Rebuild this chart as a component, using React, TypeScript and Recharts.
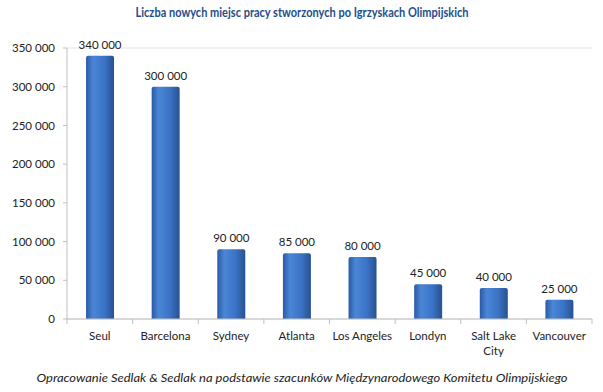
import React from 'react'
import { BarChart, Bar, XAxis, YAxis, CartesianGrid, LabelList } from 'recharts'

const cities = ['Seul', 'Barcelona', 'Sydney', 'Atlanta', 'Los Angeles', 'Londyn', 'Salt Lake City', 'Vancouver']
const jobs = [340000, 300000, 90000, 85000, 80000, 45000, 40000, 25000]
const yTicks = [0, 50000, 100000, 150000, 200000, 250000, 300000, 350000]

const title = 'Liczba nowych miejsc pracy stworzonych po Igrzyskach Olimpijskich'
const source = 'Opracowanie Sedlak & Sedlak na podstawie szacunków Międzynarodowego Komitetu Olimpijskiego'

const data = cities.map((city, i) => ({ city, jobs: jobs[i] }))

const W = 603
const H = 392
const FONT = 'Lato, "Noto Sans", sans-serif'
const BAND = (592 - 67) / cities.length

const fmt = (v: number) => String(v).replace(/\B(?=(\d{3})+(?!\d))/g, ' ')

function splitLabel(s: string) {
  if (s.length <= 12) return [s]
  const i = s.lastIndexOf(' ')
  return [s.slice(0, i), s.slice(i + 1)]
}

const CityTick = (props: any) => {
  const { x, y, payload, index } = props
  const lines = splitLabel(payload.value)
  return (
    <g>
      <line x1={x - BAND / 2} x2={x - BAND / 2} y1={y - 8} y2={y - 3} stroke="#bfbfbf" />
      {index === cities.length - 1 && (
        <line x1={x + BAND / 2} x2={x + BAND / 2} y1={y - 8} y2={y - 3} stroke="#bfbfbf" />
      )}
      <text x={x} y={y + 13} textAnchor="middle" fontSize={11.5} fill="#222" fontFamily={FONT}>
        {lines.map((l, i) => (
          <tspan key={i} x={x} dy={i === 0 ? 0 : 15}>{l}</tspan>
        ))}
      </text>
    </g>
  )
}

const ValueLabel = (props: any) => {
  const { x, y, width, value } = props
  return (
    <text x={x + width / 2} y={y - 7} textAnchor="middle" fontSize={11.5} fill="#222" fontFamily={FONT}>
      {fmt(Number(value))}
    </text>
  )
}

export default function App() {
  return (
    <div style={{ position: 'absolute', left: 0, top: 0, width: W, height: H, background: '#fff' }}>
      <svg width={W} height={H} style={{ position: 'absolute', left: 0, top: 0 }}>
        <text x={302} y={17} textAnchor="middle" fontSize={14} fontWeight="bold" fill="#1f4e8c"
          fontFamily={FONT} textLength={333} lengthAdjust="spacingAndGlyphs">{title}</text>
        <text x={302} y={382} textAnchor="middle" fontSize={11.5} fontStyle="italic" fill="#222"
          fontFamily={FONT} textLength={531} lengthAdjust="spacingAndGlyphs">{source}</text>
      </svg>
      <div style={{ position: 'absolute', left: 0, top: 0 }}>
        <BarChart width={W} height={H} data={data} margin={{ top: 48, right: 11, bottom: 43, left: 0 }} barCategoryGap="29%">
          <defs>
            <linearGradient id="barFill" x1="0" y1="0" x2="1" y2="0">
              <stop offset="0%" stopColor="#2b5aa6" />
              <stop offset="25%" stopColor="#4a86d6" />
              <stop offset="65%" stopColor="#3b73c6" />
              <stop offset="100%" stopColor="#28528f" />
            </linearGradient>
          </defs>
          <CartesianGrid vertical={false} stroke="#e3e3e3" />
          <XAxis dataKey="city" interval={0} height={30} axisLine={{ stroke: '#bfbfbf' }} tickLine={false}
            tick={<CityTick />} />
          <YAxis yAxisId="l" width={67} domain={[0, 350000]} ticks={yTicks} tickFormatter={fmt}
            axisLine={{ stroke: '#bfbfbf' }} tickLine={{ stroke: '#bfbfbf' }} tickSize={4} tickMargin={8}
            tick={{ fontSize: 11.5, fill: '#222', fontFamily: FONT }} />
          <YAxis yAxisId="r" orientation="right" width={0} domain={[0, 350000]} tick={false}
            tickLine={false} axisLine={{ stroke: '#d9d9d9' }} />
          <Bar yAxisId="l" dataKey="jobs" fill="url(#barFill)" radius={[2, 2, 0, 0]} isAnimationActive={false}>
            <LabelList dataKey="jobs" content={<ValueLabel />} />
          </Bar>
        </BarChart>
      </div>
    </div>
  )
}
